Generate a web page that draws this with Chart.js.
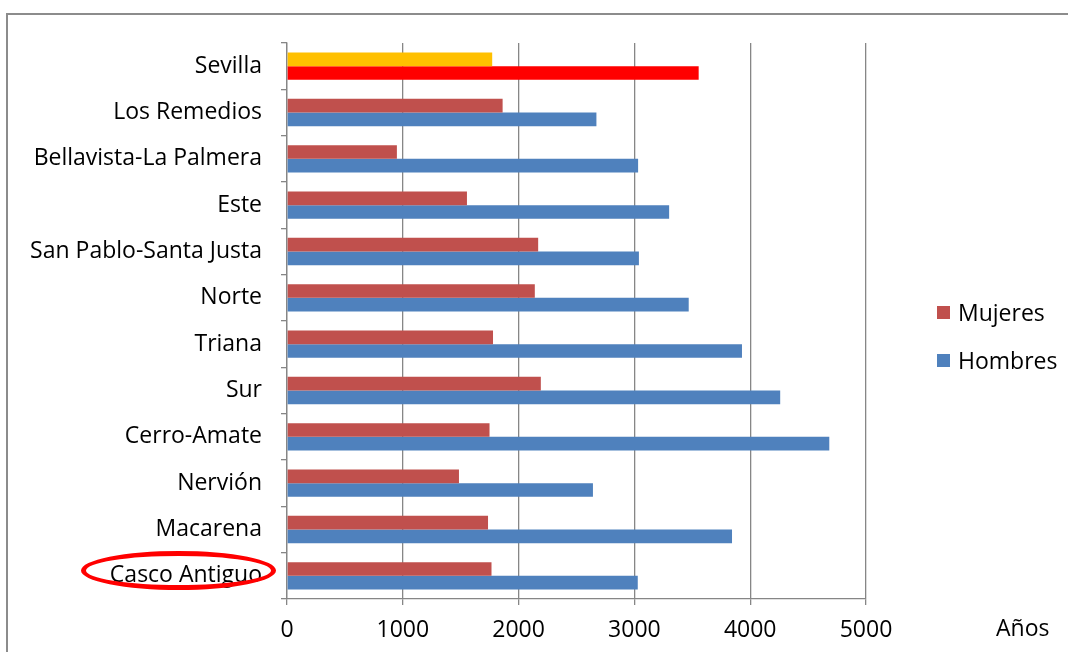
<!DOCTYPE html>
<html>
<head>
<meta charset="utf-8">
<script src="https://cdn.jsdelivr.net/npm/chart.js@4/dist/chart.umd.min.js"></script>
<style>
  html, body { margin: 0; padding: 0; background: #fff; overflow: hidden; }
  #wrap { position: relative; width: 1068px; height: 652px; }
  #frame { position: absolute; left: 6px; top: 13px; width: 1100px; height: 700px;
           border: 2px solid #8c8c8c; box-sizing: border-box; }
  canvas { position: absolute; left: 0; top: 0; }
  .leg { position: absolute; font: 23px 'Open Sans', sans-serif; color: #000; }
  .leg span { display: inline-block; width: 13px; height: 13px; margin-right: 8px; vertical-align: 2px; }
  #anos { position: absolute; left: 996px; top: 611px; font: 23px 'Open Sans', sans-serif; }
  #ring { position: absolute; left: 81px; top: 551px; width: 195px; height: 39px;
          border: 5px solid #ff0000; border-radius: 50%; box-sizing: border-box; }
</style>
</head>
<body>
<div id="wrap">
  <div id="frame"></div>
  <canvas id="chart" width="1068" height="652"></canvas>
  <div class="leg" style="left:937px; top:296px;"><span style="background:#C0504D"></span>Mujeres</div>
  <div class="leg" style="left:937px; top:344px;"><span style="background:#4F81BD"></span>Hombres</div>
  <div id="anos">Años</div>
  <div id="ring"></div>
</div>
<script>
// districts, top to bottom
const districts = ['Sevilla', 'Los Remedios', 'Bellavista-La Palmera', 'Este', 'San Pablo-Santa Justa',
  'Norte', 'Triana', 'Sur', 'Cerro-Amate', 'Nervión', 'Macarena', 'Casco Antiguo'];

const mujeres = [1772, 1862, 949, 1554, 2169, 2140, 1779, 2192, 1749, 1485, 1736, 1766];
const hombres = [3555, 2672, 3032, 3300, 3039, 3469, 3929, 4259, 4683, 2642, 3843, 3029];

const xTicks = [0, 1000, 2000, 3000, 4000, 5000];

// Sevilla (total) row gets its own colours
const colMujeres = districts.map((d, i) => i === 0 ? '#FFC000' : '#C0504D');
const colHombres = districts.map((d, i) => i === 0 ? '#FF0000' : '#4F81BD');

const grey = '#868686';
const font = { family: "'Open Sans', sans-serif", size: 23 };

new Chart(document.getElementById('chart'), {
  type: 'bar',
  data: {
    labels: districts,
    datasets: [
      { label: 'Mujeres', data: mujeres, backgroundColor: colMujeres, borderWidth: 0 },
      { label: 'Hombres', data: hombres, backgroundColor: colHombres, borderWidth: 0 }
    ]
  },
  options: {
    indexAxis: 'y',
    responsive: false,
    animation: false,
    layout: { padding: { left: 0, top: 43, right: 202, bottom: 0 } },
    datasets: { bar: { barPercentage: 1, categoryPercentage: 0.59 } },
    scales: {
      x: {
        min: 0, max: 5000,
        afterBuildTicks: (s) => { s.ticks = xTicks.map(v => ({ value: v })); },
        afterFit: (s) => { s.height = 53; },
        grid: { color: grey, lineWidth: 1.3, tickLength: 6 },
        border: { color: grey, width: 1.3 },
        ticks: { color: '#000', font, padding: 12, callback: (v) => String(v) }
      },
      y: {
        afterFit: (s) => { s.width = 287; },
        grid: { drawOnChartArea: false, color: grey, lineWidth: 1.3, tickLength: 6, offset: true },
        border: { color: grey, width: 1.3 },
        ticks: { color: '#000', font, padding: 19 }
      }
    },
    plugins: { legend: { display: false }, tooltip: { enabled: false } }
  }
});
</script>
</body>
</html>
